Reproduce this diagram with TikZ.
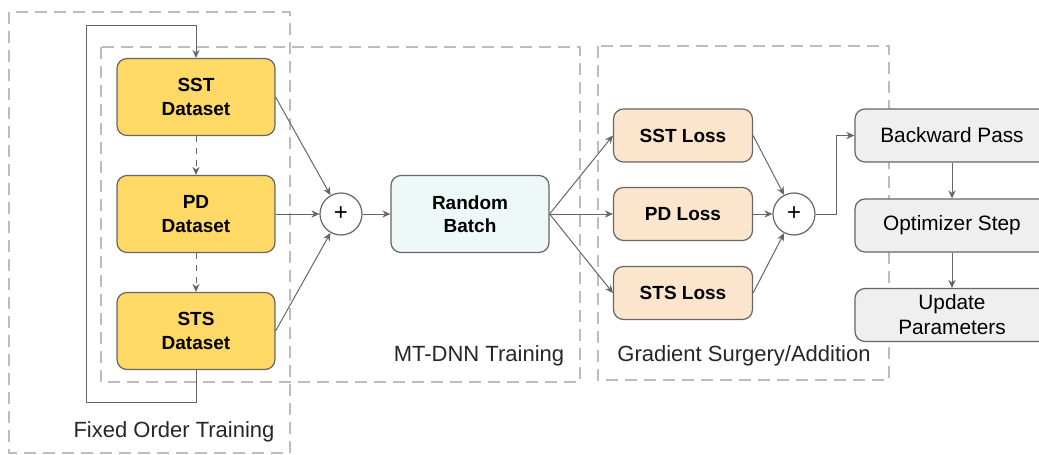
\documentclass[tikz,border=0pt]{standalone}
\usepackage{fontspec}
\setmainfont{Liberation Sans}
\usetikzlibrary{arrows.meta}
\definecolor{dataYellow}{HTML}{FFD966}
\definecolor{lossOrange}{HTML}{FCE5CD}
\definecolor{batchCyan}{HTML}{EEF8F7}
\definecolor{stepGray}{HTML}{EFEFEF}
\definecolor{edgeGray}{HTML}{666666}
\definecolor{frameGray}{HTML}{BCBCBC}
\begin{document}
\begin{tikzpicture}[x=0.5pt,y=-0.5pt]

          \tikzstyle{box} = [draw=edgeGray, line width=0.6pt, rounded corners=5pt, inner sep=0pt, align=center];
          \tikzstyle{datasetNode} = [box, fill=dataYellow, minimum width=79pt, minimum height=38.5pt, font=\fontsize{9.5}{11.7}\selectfont\bfseries];
          \tikzstyle{lossNode} = [box, fill=lossOrange, minimum width=69.5pt, minimum height=26.5pt, font=\fontsize{9.5}{11.7}\selectfont\bfseries];
          \tikzstyle{batchNode} = [box, fill=batchCyan, minimum width=79pt, minimum height=38.5pt, font=\fontsize{9.5}{11.7}\selectfont\bfseries];
          \tikzstyle{updateNode} = [box, fill=stepGray, minimum width=97pt, minimum height=26.5pt, font=\fontsize{10.4}{12.5}\selectfont];
          \tikzstyle{sumNode} = [circle, draw=edgeGray, line width=0.6pt, fill=white, minimum size=21pt, inner sep=0pt, font=\fontsize{12}{14}\selectfont];
          \tikzstyle{frame} = [draw=frameGray, line width=1pt, dash pattern=on 6pt off 3.5pt];
          \tikzstyle{caption} = [font=\fontsize{11}{13}\selectfont, text=black!85];
          \tikzstyle{link} = [draw=edgeGray, line width=0.5pt, -{Stealth[length=4pt,width=3.6pt]}];

          \useasboundingbox (0,0) rectangle (1039,455);

          % dashed groups
          \draw[frame] (9,12) rectangle (290,453);
          \draw[frame] (101,47) rectangle (580,382);
          \draw[frame] (598,46) rectangle (889,380);

          \node[caption] (fixedLabel) at (174,432) {Fixed Order Training};
          \node[caption] (mtdnnLabel) at (479,356) {MT-DNN Training};
          \node[caption] (surgeryLabel) at (744,356) {Gradient Surgery/Addition};

          \node[datasetNode] (sst) at (196,97) {SST\\Dataset};
          \node[datasetNode] (pd) at (196,214) {PD\\Dataset};
          \node[datasetNode] (sts) at (196,331) {STS\\Dataset};

          \node[sumNode] (sumIn) at (341,214) {+};
          \node[batchNode] (batch) at (470,214) {Random\\Batch};

          \node[lossNode] (sstLoss) at (683,135.5) {SST Loss};
          \node[lossNode] (pdLoss) at (683,214) {PD Loss};
          \node[lossNode] (stsLoss) at (683,293) {STS Loss};

          \node[sumNode] (sumOut) at (794,214) {+};

          \node[updateNode] (backward) at (952,135.5) {Backward Pass};
          \node[updateNode] (optim) at (952,225.5) {Optimizer Step};
          \node[updateNode] (update) at (952,315) {Update\\Parameters};

          \coordinate (loopBottom) at (86,402);
          \coordinate (loopTop) at (86,25);
          \coordinate (turn) at (836,214);

          % fixed order loop
          \draw[link] (sts.south) |- (loopBottom) -- (loopTop) -| (sst.north);
          \draw[link, dashed] (sst) -- (pd);
          \draw[link, dashed] (pd) -- (sts);

          \draw[link] (sst.east) -- (sumIn);
          \draw[link] (pd) -- (sumIn);
          \draw[link] (sts.east) -- (sumIn);
          \draw[link] (sumIn) -- (batch);

          \draw[link] (batch.east) -- (sstLoss.west);
          \draw[link] (batch.east) -- (pdLoss.west);
          \draw[link] (batch.east) -- (stsLoss.west);

          \draw[link] (sstLoss.east) -- (sumOut);
          \draw[link] (pdLoss) -- (sumOut);
          \draw[link] (stsLoss.east) -- (sumOut);

          \draw[link] (sumOut) -- (turn) |- (backward);
          \draw[link] (backward) -- (optim);
          \draw[link] (optim) -- (update);
        \end{tikzpicture}
\end{document}
